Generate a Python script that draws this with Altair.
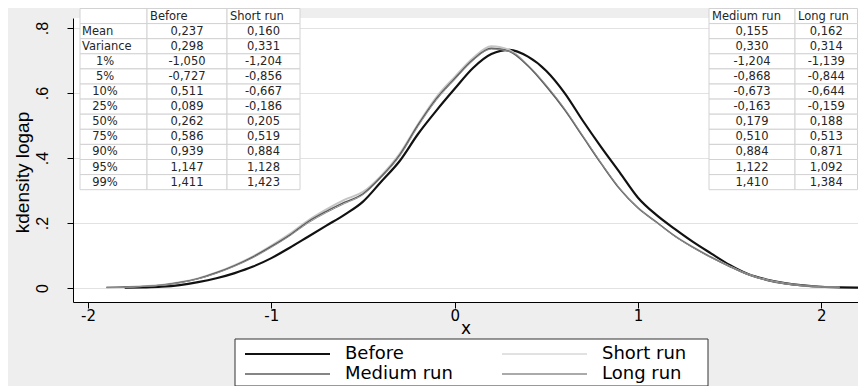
import altair as alt
import pandas as pd

# ---------------- data ----------------
xs = [-1.9, -1.8, -1.7, -1.6, -1.5, -1.4, -1.3, -1.2, -1.1, -1.0,
      -0.9, -0.8, -0.7, -0.6, -0.5, -0.4, -0.3, -0.2, -0.1, 0.0,
      0.1, 0.2, 0.3, 0.4, 0.5, 0.6, 0.7, 0.8, 0.9, 1.0,
      1.1, 1.2, 1.3, 1.4, 1.5, 1.6, 1.7, 1.8, 1.9, 2.0,
      2.1, 2.2]

before = [None, 0.001, 0.002, 0.004, 0.009, 0.018, 0.030, 0.046, 0.066, 0.092,
          0.124, 0.158, 0.192, 0.226, 0.266, 0.328, 0.391, 0.474, 0.546, 0.613,
          0.677, 0.720, 0.733, 0.712, 0.668, 0.600, 0.514, 0.433, 0.356, 0.278,
          0.225, 0.182, 0.142, 0.106, 0.071, 0.043, 0.026, 0.015, 0.008, 0.004,
          0.002, 0.001]

short_run = [0.002, 0.003, 0.006, 0.010, 0.018, 0.030, 0.048, 0.071, 0.098, 0.131,
             0.167, 0.208, 0.242, 0.272, 0.296, 0.347, 0.414, 0.505, 0.588, 0.650,
             0.708, 0.744, 0.732, 0.685, 0.622, 0.549, 0.466, 0.383, 0.306, 0.247,
             0.203, 0.161, 0.126, 0.095, 0.067, 0.042, 0.025, 0.014, 0.007, 0.004,
             0.002, None]

medium_run = [0.002, 0.003, 0.005, 0.009, 0.017, 0.029, 0.047, 0.069, 0.096, 0.128,
              0.163, 0.204, 0.236, 0.264, 0.290, 0.343, 0.410, 0.502, 0.583, 0.645,
              0.703, 0.738, 0.728, 0.683, 0.620, 0.548, 0.465, 0.382, 0.305, 0.246,
              0.203, 0.160, 0.125, 0.094, 0.066, 0.041, 0.024, 0.013, 0.007, 0.004,
              0.002, None]

long_run = [0.001, 0.002, 0.005, 0.009, 0.016, 0.028, 0.045, 0.067, 0.093, 0.125,
            0.160, 0.200, 0.232, 0.260, 0.287, 0.340, 0.405, 0.497, 0.578, 0.641,
            0.700, 0.735, 0.728, 0.686, 0.624, 0.552, 0.468, 0.384, 0.307, 0.247,
            0.202, 0.159, 0.124, 0.093, 0.066, 0.041, 0.024, 0.013, 0.007, 0.004,
            0.002, None]

series_names = ["Before", "Short run", "Medium run", "Long run"]

stat_labels = ["Mean", "Variance", "1%", "5%", "10%", "25%", "50%", "75%", "90%", "95%", "99%"]
stat_before = [0.237, 0.298, -1.050, -0.727, 0.511, 0.089, 0.262, 0.586, 0.939, 1.147, 1.411]
stat_short = [0.160, 0.331, -1.204, -0.856, -0.667, -0.186, 0.205, 0.519, 0.884, 1.128, 1.423]
stat_medium = [0.155, 0.330, -1.204, -0.868, -0.673, -0.163, 0.179, 0.510, 0.884, 1.122, 1.410]
stat_long = [0.162, 0.314, -1.139, -0.844, -0.644, -0.159, 0.188, 0.513, 0.871, 1.092, 1.384]

y_ticks = [0, 0.2, 0.4, 0.6, 0.8]
x_ticks = [-2, -1, 0, 1, 2]

# ---------------- styling / layout ----------------
colors = ["#111111", "#c4c4c4", "#5c5c5c", "#8e8e8e"]
widths = [2.2, 1.0, 1.4, 1.3]

W, H = 785, 284
PAD = {"left": 65, "top": 10, "right": 0, "bottom": 84}
TABLE_FONT = "DejaVu Sans"
TABLE_FS = 11.5

rows = []
for name, vals in zip(series_names, [before, short_run, medium_run, long_run]):
    for xv, yv in zip(xs, vals):
        if yv is not None:
            rows.append({"x": xv, "density": yv, "series": name})
df = pd.DataFrame(rows)


def fmt(v):
    return f"{v:.3f}".replace(".", ",")


# ---- tables (positions in chart pixel space, relative to plot origin) ----
ROW_TOP = -9.5
ROW_H = 15.1
left_edges = [7, 74, 154, 227]
right_edges = [636, 722, 784.5]

rects = []
texts_left = []
texts_center = []


def add_table(edges, header, body, label_col):
    nrows = len(body) + 1
    for r in range(nrows):
        y0 = ROW_TOP + r * ROW_H
        for c in range(len(edges) - 1):
            rects.append({"x": edges[c], "x2": edges[c + 1], "y": y0, "y2": y0 + ROW_H})
    ymid = lambda r: ROW_TOP + r * ROW_H + ROW_H / 2 + 0.5
    for c, h in enumerate(header):
        if h:
            texts_left.append({"px": edges[c] + 3, "py": ymid(0), "t": h})
    for r, row in enumerate(body, start=1):
        for c, val in enumerate(row):
            if label_col and c == 0:
                if val in ("Mean", "Variance"):
                    texts_left.append({"px": edges[0] + 2, "py": ymid(r), "t": val})
                else:
                    texts_center.append({"px": edges[0] + 25, "py": ymid(r), "t": val})
            else:
                texts_center.append({"px": (edges[c] + edges[c + 1]) / 2, "py": ymid(r), "t": val})


left_body = [[s, fmt(b), fmt(sr)] for s, b, sr in zip(stat_labels, stat_before, stat_short)]
right_body = [[fmt(m), fmt(l)] for m, l in zip(stat_medium, stat_long)]
add_table(left_edges, ["", "Before", "Short run"], left_body, True)
add_table(right_edges, ["Medium run", "Long run"], right_body, False)

rect_df = pd.DataFrame(rects)
tl_df = pd.DataFrame(texts_left)
tc_df = pd.DataFrame(texts_center)

# ---- legend (drawn by hand, chart pixel space) ----
LEG_BOX = {"x": 162, "x2": 635, "y": 321, "y2": 368}
leg_col_x = [172, 429]
leg_row_y = [336, 356]
LEG_SYM = 85
LEG_GAP = 15
leg_rows = []
for i, (name, col, w) in enumerate(zip(series_names, colors, widths)):
    cx = leg_col_x[i % 2]
    cy = leg_row_y[i // 2]
    leg_rows.append({"sx": cx, "sx2": cx + LEG_SYM, "sy": cy, "c": col, "w": w,
                     "lx": cx + LEG_SYM + LEG_GAP, "t": name})
leg_df = pd.DataFrame(leg_rows)
box_df = pd.DataFrame([LEG_BOX])

# ---------------- chart ----------------
lines = alt.Chart(df).mark_line(interpolate="monotone").encode(
    x=alt.X("x:Q",
            scale=alt.Scale(domain=[-2.082, 2.2], nice=False, zero=False),
            axis=alt.Axis(values=x_ticks, labelExpr="'' + datum.value",
                          labelFont="DejaVu Sans", labelFontSize=15, labelColor="black",
                          labelBaseline="alphabetic", labelPadding=12,
                          tickSize=6, tickColor="black", domainColor="black",
                          grid=False, title="x", titleFont="DejaVu Sans",
                          titleFontSize=17, titleFontWeight="normal", titleColor="black",
                          titleY=31, titleBaseline="alphabetic")),
    y=alt.Y("density:Q",
            scale=alt.Scale(domain=[-0.043, 0.831], nice=False, zero=False),
            axis=alt.Axis(values=y_ticks,
                          labelExpr="datum.value == 0 ? '0' : replace(format(datum.value, '.1f'), '0.', '.')",
                          labelAngle=270, labelAlign="center", labelBaseline="alphabetic",
                          labelPadding=20, labelFont="Liberation Sans", labelFontSize=16,
                          labelColor="black", tickSize=6, tickColor="black",
                          domainColor="black", grid=True, gridColor="#e2e2e2",
                          title="kdensity logap", titleFont="Liberation Sans",
                          titleFontSize=19, titleFontWeight="normal", titleColor="black",
                          titleAngle=270, titleX=-51, titleY=154, titleAlign="center",
                          titleBaseline="middle")),
    color=alt.Color("series:N", sort=series_names,
                    scale=alt.Scale(domain=series_names, range=colors), legend=None),
    strokeWidth=alt.StrokeWidth("series:N", sort=series_names,
                                scale=alt.Scale(domain=series_names, range=widths),
                                legend=None),
)

cells = alt.Chart(rect_df).mark_rect(fill="white", stroke="#d2d2d2", strokeWidth=1).encode(
    x=alt.X("x:Q", scale=None), x2="x2:Q",
    y=alt.Y("y:Q", scale=None), y2="y2:Q",
)

txt_left = alt.Chart(tl_df).mark_text(align="left", baseline="middle", font=TABLE_FONT,
                                      fontSize=TABLE_FS, color="#262626").encode(
    x=alt.X("px:Q", scale=None), y=alt.Y("py:Q", scale=None), text="t:N")

txt_center = alt.Chart(tc_df).mark_text(align="center", baseline="middle", font=TABLE_FONT,
                                        fontSize=TABLE_FS, color="#262626").encode(
    x=alt.X("px:Q", scale=None), y=alt.Y("py:Q", scale=None), text="t:N")

leg_box = alt.Chart(box_df).mark_rect(fill="white", stroke="#333333", strokeWidth=1).encode(
    x=alt.X("x:Q", scale=None), x2="x2:Q",
    y=alt.Y("y:Q", scale=None), y2="y2:Q",
)

leg_lines = alt.Chart(leg_df).mark_rule().encode(
    x=alt.X("sx:Q", scale=None), x2="sx2:Q",
    y=alt.Y("sy:Q", scale=None),
    color=alt.Color("c:N", scale=None),
    strokeWidth=alt.StrokeWidth("w:Q", scale=None),
)

leg_text = alt.Chart(leg_df).mark_text(align="left", baseline="middle", font="DejaVu Sans",
                                       fontSize=18, color="black").encode(
    x=alt.X("lx:Q", scale=None), y=alt.Y("sy:Q", scale=None), text="t:N")

chart = alt.layer(lines, cells, txt_left, txt_center, leg_box, leg_lines, leg_text).properties(
    width=W, height=H, padding=PAD,
    autosize=alt.AutoSizeParams(type="none"),
).configure(background="#eeeeee").configure_view(stroke=None, fill="white")

chart.save("out.html", embed_options={"renderer": "svg", "actions": False})
